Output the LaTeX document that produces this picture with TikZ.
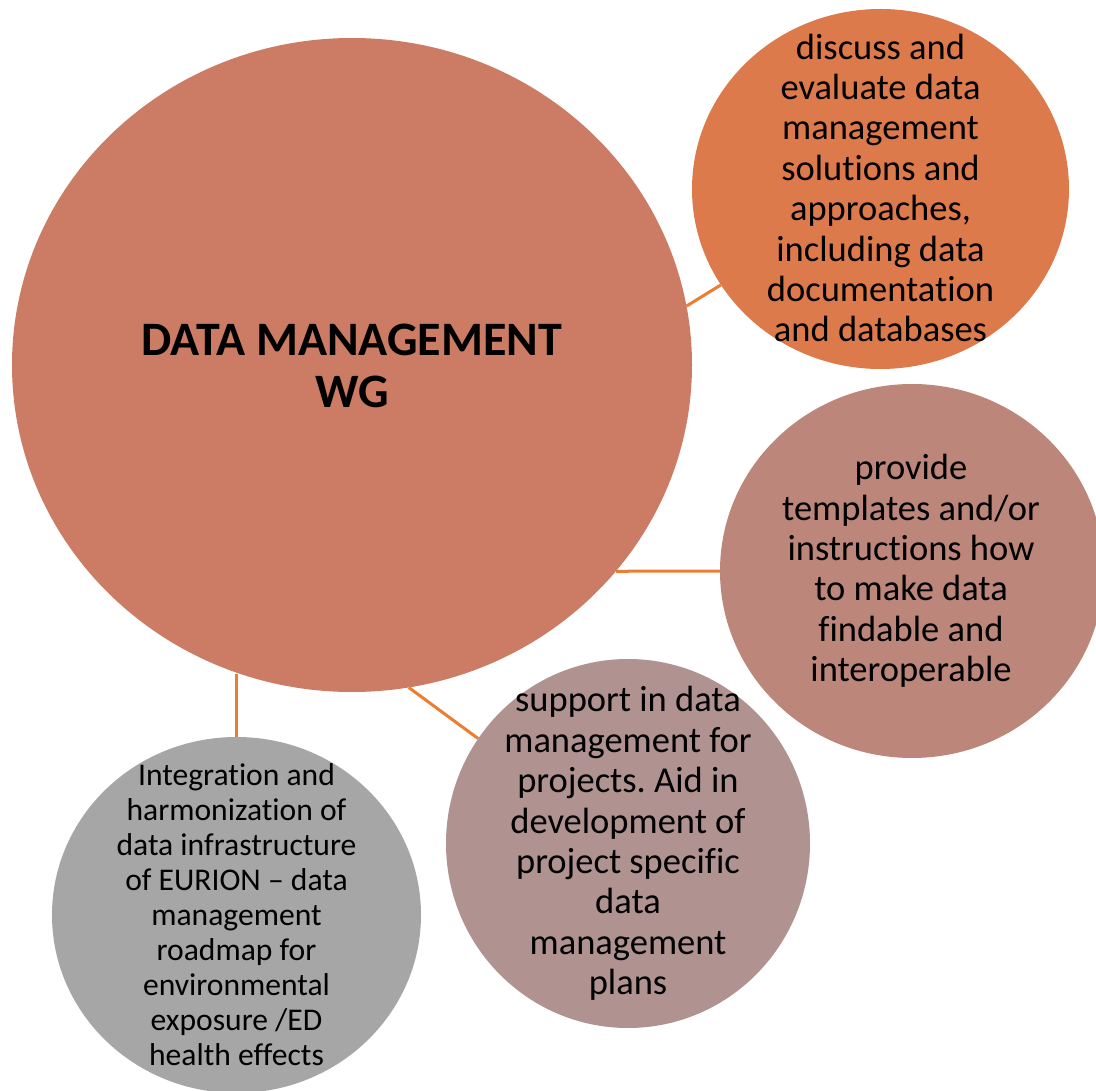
\documentclass[tikz,border=0pt]{standalone}
\usepackage{fontspec}
\setmainfont{Carlito}[Ligatures={NoCommon}]
\usetikzlibrary{shapes.geometric}
\definecolor{cmain}{RGB}{204,124,100}
\definecolor{cone}{RGB}{221,122,76}
\definecolor{ctwo}{RGB}{188,134,122}
\definecolor{cthree}{RGB}{176,147,145}
\definecolor{cfour}{RGB}{166,166,166}
\definecolor{clink}{RGB}{237,125,49}
\frenchspacing
\begin{document}
\begin{tikzpicture}[x=1pt,y=-1pt,
  bub/.style={ellipse, draw=none, inner sep=0pt},
  txt/.style={align=center, text=black, inner sep=0pt, font=\fontsize{36.5}{40.4}\selectfont},
  smalltxt/.style={align=center, text=black, inner sep=0pt, font=\fontsize{31.6}{35}\selectfont},
  titletxt/.style={align=center, text=black, inner sep=0pt, font=\fontsize{48}{52}\selectfont\bfseries},
  link/.style={draw=clink, line width=3pt}]
\useasboundingbox (0,0) rectangle (1096,1091);
\fill[white] (0,0) rectangle (1096,1091);

\node[bub, fill=cmain, minimum width=680pt, minimum height=654pt] (main) at (352,365) {};
\node[bub, fill=cone, minimum width=377pt, minimum height=360pt] (b1) at (880.5,189) {};
\node[bub, fill=ctwo, minimum width=384pt, minimum height=374pt] (b2) at (912,571) {};
\node[bub, fill=cthree, minimum width=364pt, minimum height=369pt] (b3) at (628,843.5) {};
\node[bub, fill=cfour, minimum width=369pt, minimum height=356pt] (b4) at (236.5,915) {};

\draw[link] (main.10.8) -- (b1.211);
\draw[link] (main.-38.5) -- (b2.180);
\draw[link] (main.-80.8) -- (b3.145.6);
\draw[link] (main.250.2 -| b4.north) -- (b4.north);

\node[titletxt] (t0) at (352,366) {DATA MANAGEMENT\\WG};
\node[txt] (t1) at (880.5,188) {discuss and\\evaluate data\\management\\solutions and\\approaches,\\including data\\documentation\\and databases};
\node[txt] (t2) at (911,571) {provide\\templates and/or\\instructions how\\to make data\\findable and\\interoperable};
\node[txt] (t3) at (628,843.5) {support in data\\management for\\projects. Aid in\\development of\\project specific\\data\\management\\plans};
\node[smalltxt] (t4) at (236.5,915) {Integration and\\harmonization of\\data infrastructure\\of EURION -- data\\management\\roadmap for\\environmental\\exposure /ED\\health effects};
\end{tikzpicture}
\end{document}
